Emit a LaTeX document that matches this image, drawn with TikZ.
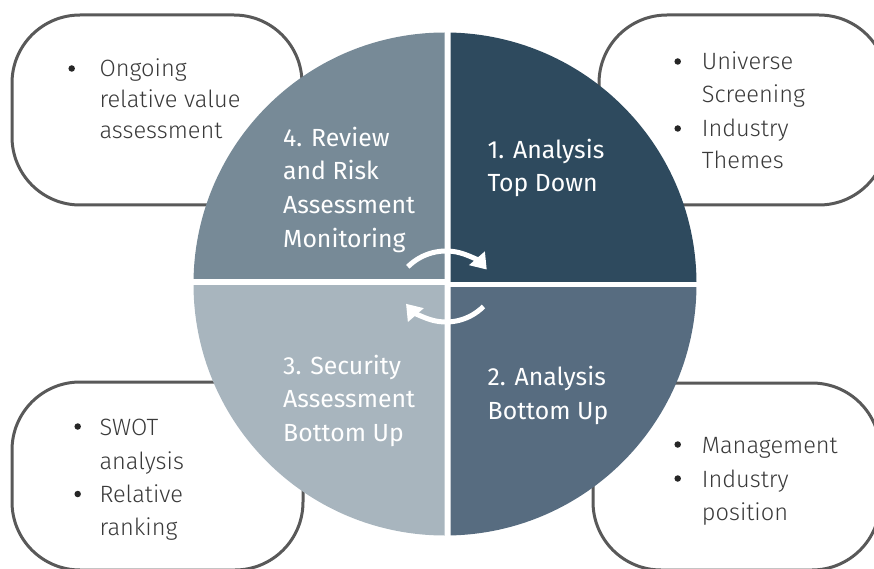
\documentclass[tikz,border=0pt]{standalone}
\usepackage{fontspec}
\setmainfont{Fira Sans}
\newfontfamily\lightfont{Fira Sans Light}
\usetikzlibrary{arrows.meta}
\definecolor{qone}{HTML}{2E4A5E}
\definecolor{qtwo}{HTML}{576C80}
\definecolor{qthree}{HTML}{A8B5BE}
\definecolor{qfour}{HTML}{778A97}
\definecolor{bordergrey}{HTML}{595959}
\definecolor{txtgrey}{HTML}{3A3A3A}
\begin{document}
\begin{tikzpicture}[x=1pt,y=1pt,
  panel/.style={draw=bordergrey, line width=3pt, rounded corners=68pt, fill=white, inner sep=0pt},
  boxtxt/.style={anchor=base west, inner sep=0pt, text=txtgrey, font=\lightfont\fontsize{23.6}{28}\selectfont},
  qtxt/.style={anchor=base west, inner sep=0pt, text=white, font=\fontsize{24.8}{29}\selectfont},
  dot/.style={circle, fill=black!85, inner sep=0pt, minimum size=6.5pt},
  cyc/.style={draw=white, line width=5pt, -{Triangle[width=20pt,length=15pt]}}
]
\useasboundingbox (0,0) rectangle (874,-569);
% rounded boxes
\node[panel, minimum width=290pt, minimum height=190pt] (btl) at (157,-110) {};
\node[panel, minimum width=288pt, minimum height=190pt] (btr) at (743,-110) {};
\node[panel, minimum width=291pt, minimum height=188pt] (bbl) at (157.5,-476) {};
\node[panel, minimum width=287pt, minimum height=187pt] (bbr) at (736.5,-476.5) {};
% quadrants
\begin{scope}
  \clip (180,-20) rectangle (444.5,-278.5);
  \fill[qfour] (445,-284) circle[radius=251.5pt];
\end{scope}
\begin{scope}
  \clip (450.5,-20) rectangle (710,-281);
  \fill[qone] (445,-284) circle[radius=251.5pt];
\end{scope}
\begin{scope}
  \clip (180,-285.5) rectangle (444.5,-550);
  \fill[qthree] (445,-284) circle[radius=251.5pt];
\end{scope}
\begin{scope}
  \clip (450.5,-287) rectangle (710,-550);
  \fill[qtwo] (445,-284) circle[radius=251.5pt];
\end{scope}
% cycle arrows
\coordinate (ca1) at (446,-305);
\coordinate (ca2) at (446,-269);
\draw[cyc] ([shift={(135:54pt)}]ca1) arc[start angle=135, end angle=41, radius=54pt];
\draw[cyc] ([shift={(-45:53pt)}]ca2) arc[start angle=-45, end angle=-139, radius=53pt];
% quadrant labels
\node[qtxt] (q4a) at (283,-147) {4. Review};
\node[qtxt] (q4b) at (283,-180) {and Risk};
\node[qtxt] (q4c) at (283,-213.5) {Assessment};
\node[qtxt] (q4d) at (283,-247) {Monitoring};
\node[qtxt] (q1a) at (487.5,-158.5) {1. Analysis};
\node[qtxt] (q1b) at (487.5,-191.5) {Top Down};
\node[qtxt] (q3a) at (283,-374.5) {3. Security};
\node[qtxt] (q3b) at (283,-407) {Assessment};
\node[qtxt] (q3c) at (283,-441) {Bottom Up};
\node[qtxt] (q2a) at (487.5,-385.5) {2. Analysis};
\node[qtxt] (q2b) at (487.5,-419) {Bottom Up};
% box texts
\node[dot] (tld1) at (71.7,-68.5) {};
\node[boxtxt] (tl1) at (99.3,-77) {Ongoing};
\node[boxtxt] (tl2) at (99.3,-108) {relative value};
\node[boxtxt] (tl3) at (99.3,-139) {assessment};
\node[dot] (trd1) at (677.7,-61.5) {};
\node[boxtxt] (tr1) at (701.7,-70) {Universe};
\node[boxtxt] (tr2) at (701.7,-102.5) {Screening};
\node[dot] (trd2) at (677.7,-128.5) {};
\node[boxtxt] (tr3) at (701.7,-137) {Industry};
\node[boxtxt] (tr4) at (701.7,-168.5) {Themes};
\node[dot] (bld1) at (77.7,-426.5) {};
\node[boxtxt] (bl1) at (99.3,-435) {SWOT};
\node[boxtxt] (bl2) at (99.3,-469) {analysis};
\node[dot] (bld2) at (77.7,-494) {};
\node[boxtxt] (bl3) at (99.3,-502.5) {Relative};
\node[boxtxt] (bl4) at (99.3,-535) {ranking};
\node[dot] (brd1) at (677.7,-444.5) {};
\node[boxtxt] (br1) at (701.7,-453) {Management};
\node[dot] (brd2) at (677.7,-478.5) {};
\node[boxtxt] (br2) at (701.7,-487) {Industry};
\node[boxtxt] (br3) at (701.7,-520) {position};
\end{tikzpicture}
\end{document}
